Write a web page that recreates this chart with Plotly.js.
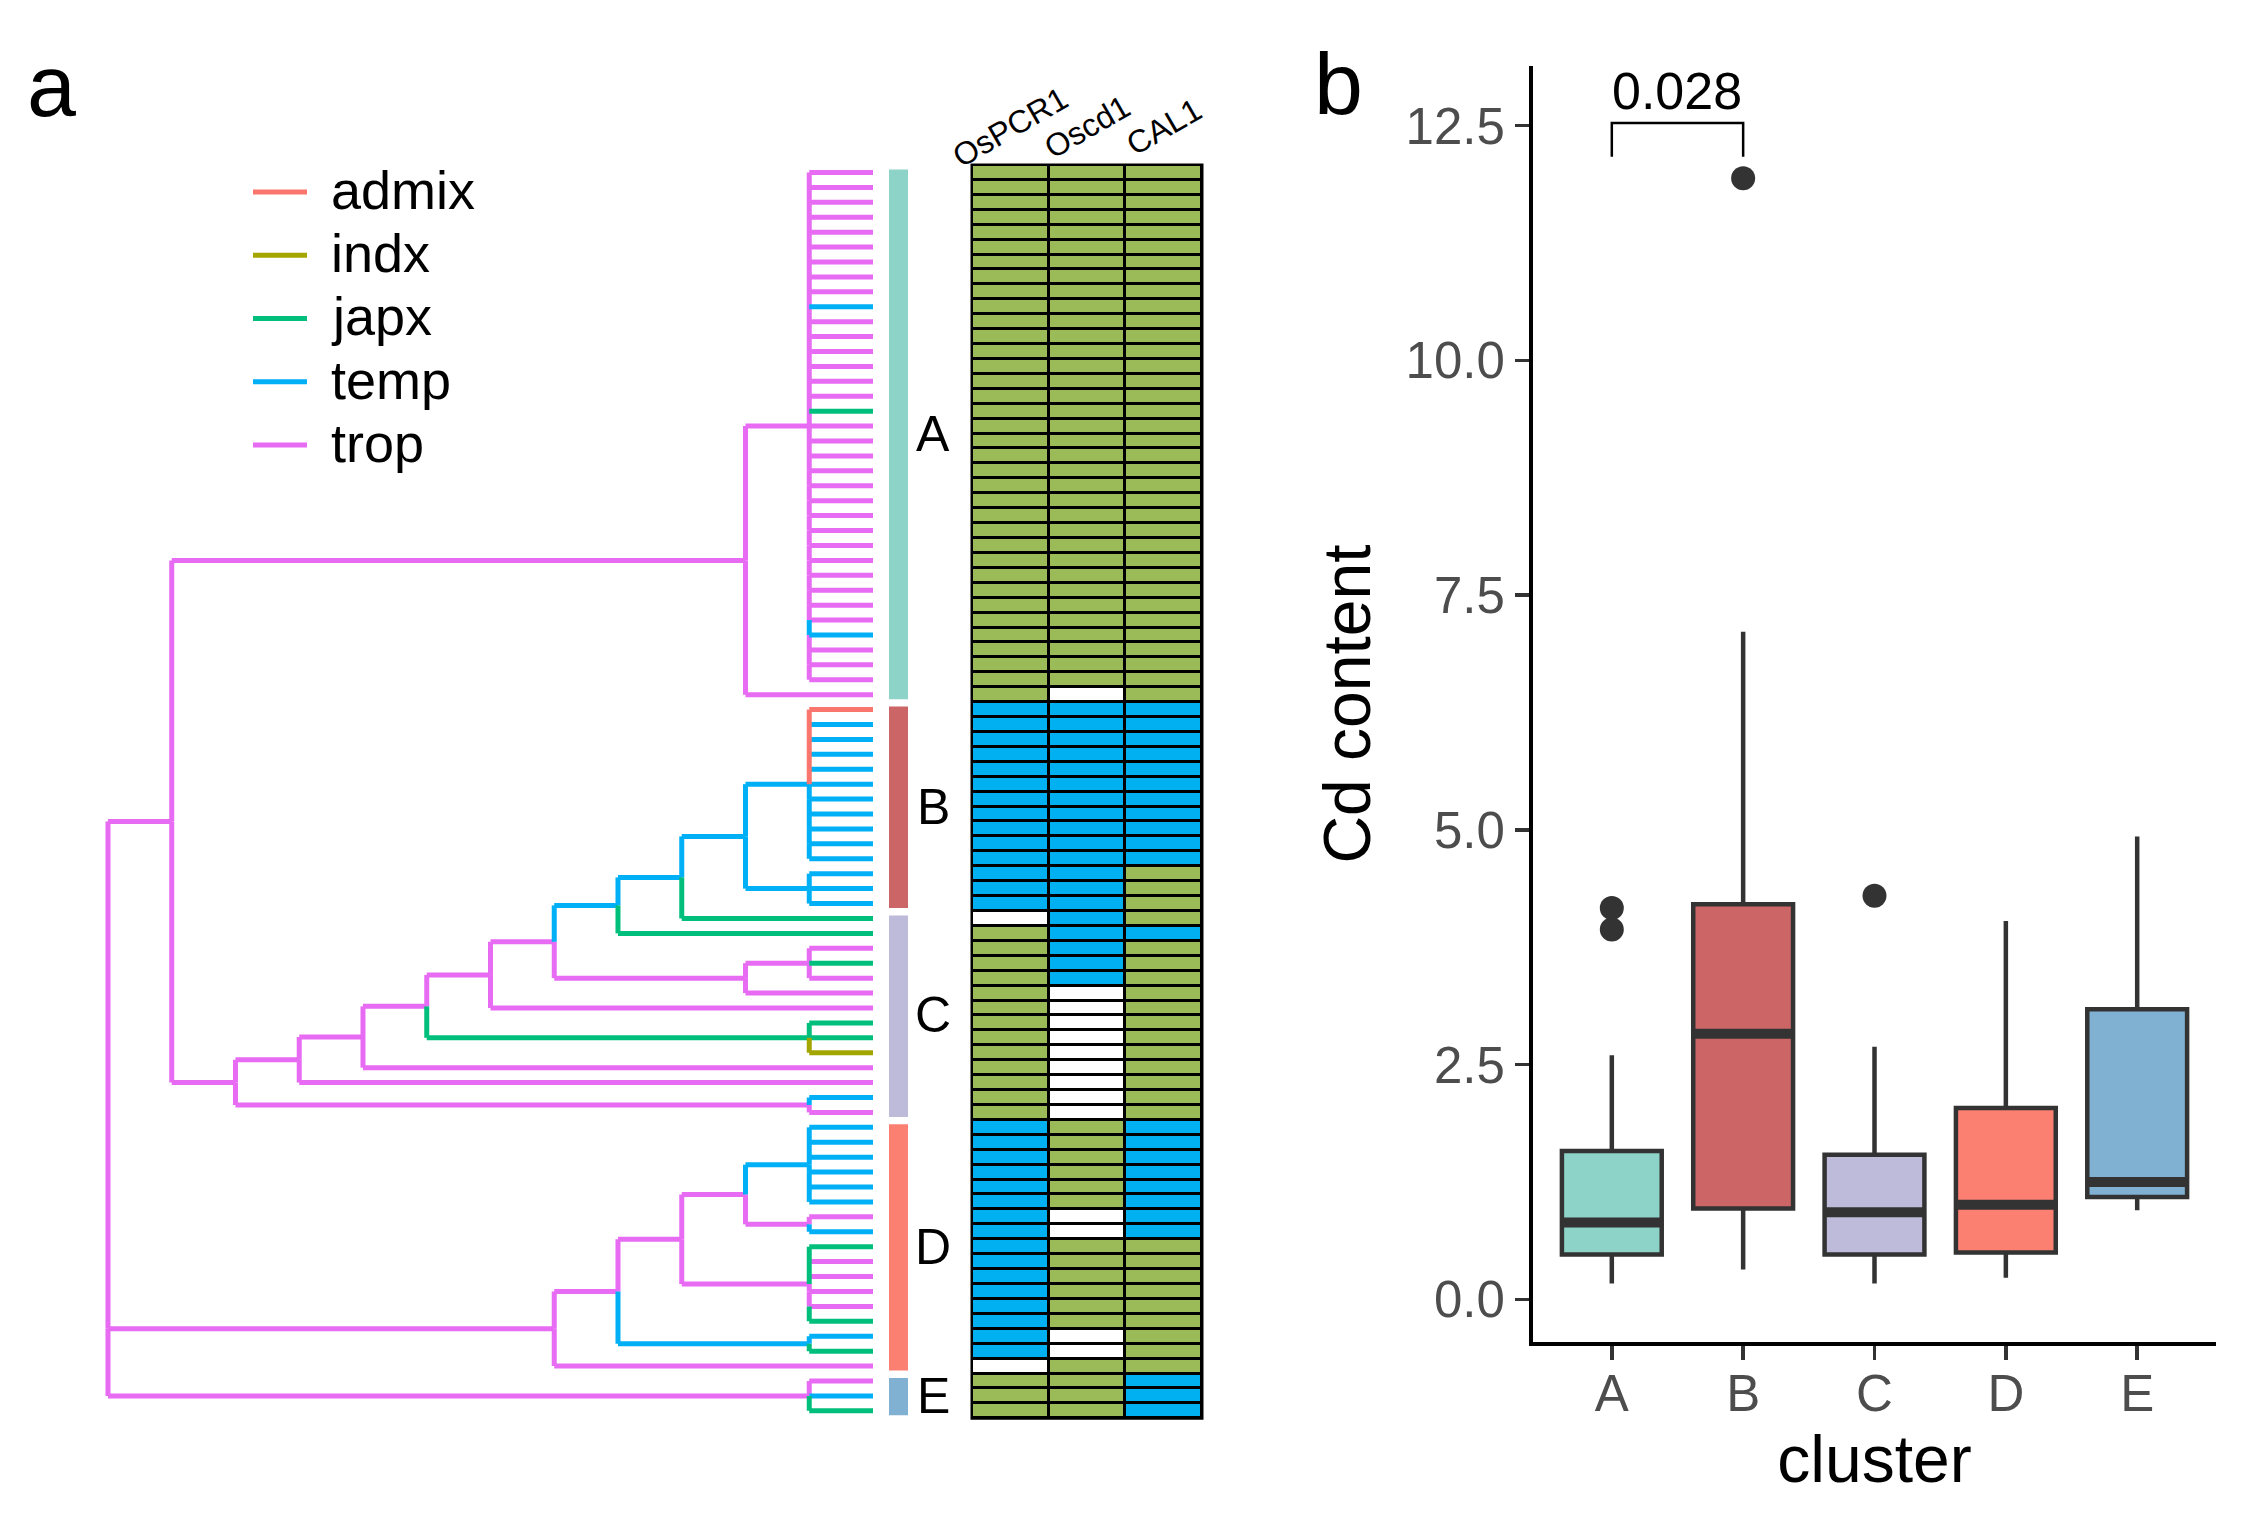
<!DOCTYPE html>
<html>
<head>
<meta charset="utf-8">
<script src="https://cdn.plot.ly/plotly-3.0.1.min.js"></script>
<style>
html,body{margin:0;padding:0;background:#ffffff;}
#chart{width:2253px;height:1527px;}
</style>
</head>
<body>
<div id="chart"></div>
<script>
// ====================== DATA ======================
// subpopulation groups (legend) and their colours
const groups      = ['admix', 'indx', 'japx', 'temp', 'trop'];
const groupCodes  = ['A', 'I', 'J', 'T', 'P'];
const groupColors = ['#F8766D', '#A3A500', '#00BF7D', '#00B0F6', '#E76BF3'];

// clusters (rows of the heatmap, top to bottom)
const clusters      = ['A', 'B', 'C', 'D', 'E'];
const clusterColors = ['#8DD3C7', '#CC6666', '#BEBADA', '#FB8072', '#80B1D3'];

// group of every leaf, per cluster (spaces only for readability)
const leafGroupsA = 'PPPPPPPPP T PPPPPP J PPPPPPP PPPPPPP T PPPP';
const leafGroupsB = 'A TTTTTTT TTTTTT';
const leafGroupsC = 'J J P J P P P J J I P P T P';
const leafGroupsD = 'TTTTTT P T J PPPP J T J P';
const leafGroupsE = 'P T J';

// tree topology: [internal-node group code, children...]; numbers are leaf rows
const treeTopology =
['P',
  ['P',
    ['P', ['P', 0,1,2,3,4,5,6,7,8,9,10,11,12,13,14,15,16,17,18,19,20,21,22,23,24,25,26,27,28,29,30,31,32,33,34], 35],
    ['P',
      ['P',
        ['P',
          ['P',
            ['P',
              ['P',
                ['T',
                  ['T',
                    ['T', ['T', 36,37,38,39,40,41,42,43,44,45,46], ['T', 47,48,49]],
                    50],
                  51],
                ['P', ['P', 52,53,54], 55]],
              56],
            ['J', 57,58,59]],
          60],
        61],
      ['P', 62,63]]],
  ['P',
    ['P',
      ['P',
        ['P', ['T', 64,65,66,67,68,69], ['P', 70,71]],
        ['P', 72,73,74,75,76,77]],
      ['T', 78,79]],
    80],
  ['P', 81,82,83]];

// heatmap genes and genotype calls per cluster (g = green, b = blue, w = missing)
const genes  = ['OsPCR1', 'Oscd1', 'CAL1'];
const OsPCR1 = ['gggggg gggggg gggggg gggggg gggggg gggggg', 'bbbbbbb bbbbbbb', 'w gggggg gggggg g', 'bbbbbbbb bbbbbbbb w', 'ggg'];
const Oscd1  = ['gggggg gggggg gggggg gggggg gggggg ggggg w', 'bbbbbbb bbbbbbb', 'bbbbb wwwwwwwww', 'gggggg ww gggggg ww g', 'ggg'];
const CAL1   = ['gggggg gggggg gggggg gggggg gggggg gggggg', 'bbbbbb bbbbb ggg', 'g b gggggg gggggg', 'bbbbbbbb ggggg gggg', 'bbb'];
const callCodes  = ['w', 'g', 'b'];
const callColors = ['#FFFFFF', '#9BBB59', '#00B0F0'];

// box plot statistics of Cd content per cluster
const q1         = [0.48, 0.97, 0.48, 0.50, 1.09];
const medians    = [0.82, 2.83, 0.93, 1.01, 1.25];
const q3         = [1.58, 4.21, 1.54, 2.04, 3.09];
const lowerFence = [0.17, 0.32, 0.17, 0.23, 0.95];
const upperFence = [2.60, 7.11, 2.69, 4.03, 4.93];
const outlierCluster = ['A', 'A', 'B', 'C'];
const outlierValue   = [4.17, 3.94, 11.94, 4.30];
const compareGroups  = ['A', 'B'];
const compareP       = '0.028';
const compareY       = [12.17, 12.53];

// ====================== BUILD ======================
const FONT = 'Liberation Sans, Arial, Helvetica, sans-serif';
const W = 2253, H = 1527;
const fx = p => p / W;
const fy = p => 1 - p / H;

const leafCodes = [leafGroupsA, leafGroupsB, leafGroupsC, leafGroupsD, leafGroupsE].join('').replace(/\s/g, '');
const codeGroup = c => groups[groupCodes.indexOf(c)];
const nRows = leafCodes.length;

// --- tree layout (cladogram, leaves aligned) ---
function layoutNode(n) {
  if (typeof n === 'number') return {leaf: true, y: n, h: 0, g: codeGroup(leafCodes[n])};
  const kids = n.slice(1).map(layoutNode);
  return {leaf: false, kids: kids, g: codeGroup(n[0]),
          h: 1 + Math.max(...kids.map(k => k.h)),
          y: kids.reduce((s, k) => s + k.y, 0) / kids.length};
}
const root = layoutNode(treeTopology);
const maxH = root.h;
const seg = {};
groups.forEach(g => seg[g] = {x: [], y: []});
function addSeg(g, x0, y0, x1, y1) { seg[g].x.push(x0, x1, null); seg[g].y.push(y0, y1, null); }
function walk(n) {
  if (n.leaf) return;
  const xn = maxH - n.h;
  n.kids.forEach(k => addSeg(k.g, xn, k.y, maxH - k.h, k.y));
  const above = n.kids.filter(k => k.y < n.y).sort((a, b) => a.y - b.y);
  if (above.length) addSeg(above[0].g, xn, above[0].y, xn, n.y);
  const below = n.kids.filter(k => k.y > n.y).sort((a, b) => a.y - b.y);
  let prev = n.y;
  below.forEach(k => { addSeg(k.g, xn, prev, xn, k.y); prev = k.y; });
  n.kids.forEach(walk);
}
walk(root);

const traces = [];
const drawOrder = ['trop', 'temp', 'japx', 'indx', 'admix'];
drawOrder.forEach(g => {
  traces.push({type: 'scatter', mode: 'lines', xaxis: 'x', yaxis: 'y',
    x: seg[g].x, y: seg[g].y, line: {color: groupColors[groups.indexOf(g)], width: 5},
    hoverinfo: 'skip', showlegend: false});
});

// --- heatmap ---
const geneCalls = [OsPCR1, Oscd1, CAL1].map(a => a.join('').replace(/\s/g, ''));
const rowIdx = Array.from({length: nRows}, (_, i) => i);
const z = rowIdx.map(r => geneCalls.map(s => callCodes.indexOf(s[r])));
traces.push({type: 'heatmap', xaxis: 'x2', yaxis: 'y', x: [0, 1, 2], y: rowIdx, z: z,
  zmin: 0, zmax: 2, showscale: false, xgap: 3, ygap: 3, hoverinfo: 'skip',
  colorscale: [[0, callColors[0]], [0.3333, callColors[0]], [0.3334, callColors[1]],
               [0.6666, callColors[1]], [0.6667, callColors[2]], [1, callColors[2]]]});

// --- cluster bars ---
const clusterSizes = [leafGroupsA, leafGroupsB, leafGroupsC, leafGroupsD, leafGroupsE].map(s => s.replace(/\s/g, '').length);
const clusterStart = [];
clusterSizes.reduce((acc, n) => { clusterStart.push(acc); return acc + n; }, 0);
traces.push({type: 'bar', xaxis: 'x5', yaxis: 'y', orientation: 'v',
  x: clusters.map(() => 0), base: clusterStart.map(s => s - 0.2),
  y: clusterSizes.map(n => n - 0.5), width: 1,
  marker: {color: clusterColors, line: {width: 0}}, hoverinfo: 'skip'});

// --- manual legend ---
groups.forEach((g, i) => {
  traces.push({type: 'scatter', mode: 'lines', xaxis: 'x3', yaxis: 'y3',
    x: [0, 1], y: [i, i], line: {color: groupColors[i], width: 5}, hoverinfo: 'skip'});
});

// --- box plot ---
const xpos = c => clusters.indexOf(c) + 1;
clusters.forEach((c, i) => {
  traces.push({type: 'box', xaxis: 'x4', yaxis: 'y4', x: [i + 1],
    q1: [q1[i]], median: [medians[i]], q3: [q3[i]],
    lowerfence: [lowerFence[i]], upperfence: [upperFence[i]],
    width: 0.76, whiskerwidth: 0, fillcolor: clusterColors[i],
    line: {color: '#333333', width: 4.5}, hoverinfo: 'skip', name: c});
});
const mx = [], my = [];
clusters.forEach((c, i) => { mx.push(i + 1 - 0.38, i + 1 + 0.38, null); my.push(medians[i], medians[i], null); });
traces.push({type: 'scatter', mode: 'lines', xaxis: 'x4', yaxis: 'y4', x: mx, y: my,
  line: {color: '#333333', width: 10}, hoverinfo: 'skip'});
traces.push({type: 'scatter', mode: 'markers', xaxis: 'x4', yaxis: 'y4',
  x: outlierCluster.map(xpos), y: outlierValue,
  marker: {color: '#333333', size: 24}, hoverinfo: 'skip', cliponaxis: false});
const bx0 = xpos(compareGroups[0]), bx1 = xpos(compareGroups[1]);
traces.push({type: 'scatter', mode: 'lines', xaxis: 'x4', yaxis: 'y4',
  x: [bx0, bx0, bx1, bx1], y: [compareY[0], compareY[1], compareY[1], compareY[0]],
  line: {color: '#000000', width: 2.5}, hoverinfo: 'skip'});

// ====================== LAYOUT ======================
const rowTop = 165, rowH = 14.92;
const yPx = v => rowTop + (v + 0.5) * rowH;
const yRange = [nRows, -1];
const colW = (1202 - 972) / 3;

const annotations = [];
// panel letters
annotations.push({xref: 'paper', yref: 'paper', x: fx(52), y: fy(86), text: 'a', showarrow: false,
  xanchor: 'center', yanchor: 'middle', font: {size: 88, family: FONT, color: '#000'}});
annotations.push({xref: 'paper', yref: 'paper', x: fx(1338), y: fy(83), text: 'b', showarrow: false,
  xanchor: 'center', yanchor: 'middle', font: {size: 88, family: FONT, color: '#000'}});
// legend texts
groups.forEach((g, i) => annotations.push({xref: 'x3', yref: 'y3', x: 1, y: i, xshift: 22, yshift: 2,
  text: g, showarrow: false, xanchor: 'left', yanchor: 'middle',
  font: {size: 54, family: FONT, color: '#000'}}));
// cluster labels
clusters.forEach((c, i) => annotations.push({xref: 'x5', yref: 'y', x: 0.5, xshift: 25,
  y: clusterStart[i] + (clusterSizes[i] - 1) / 2, text: c, showarrow: false,
  xanchor: 'center', yanchor: 'middle', font: {size: 50, family: FONT, color: '#000'}}));
// gene labels (above heatmap columns)
genes.forEach((g, i) => annotations.push({xref: 'x2', yref: 'paper', x: i, y: fy(127), text: g,
  showarrow: false, textangle: -30, xanchor: 'center', yanchor: 'middle',
  font: {size: 32, family: FONT, color: '#000'}}));
// p-value
annotations.push({xref: 'x4', yref: 'y4', x: (bx0 + bx1) / 2, y: compareY[1], yshift: 1,
  text: compareP, showarrow: false, xanchor: 'center', yanchor: 'bottom',
  font: {size: 52, family: FONT, color: '#000'}});

const layout = {
  width: W, height: H, margin: {l: 0, r: 0, t: 0, b: 0},
  paper_bgcolor: '#ffffff', plot_bgcolor: 'rgba(0,0,0,0)',
  showlegend: false, barmode: 'overlay', hovermode: false,
  font: {family: FONT, color: '#000'},
  xaxis: {domain: [fx(101.6), fx(873)], range: [-0.1, maxH], visible: false, anchor: 'y', fixedrange: true},
  yaxis: {domain: [fy(yPx(nRows)), fy(yPx(-1))], range: yRange, visible: false, anchor: 'x', fixedrange: true},
  xaxis2: {domain: [fx(972 - 0.04 * colW), fx(1202 + 0.04 * colW)], range: [-0.54, 2.54], visible: false, anchor: 'y', fixedrange: true},
  xaxis5: {domain: [fx(889), fx(908)], range: [-0.5, 0.5], visible: false, anchor: 'y', fixedrange: true},
  xaxis3: {domain: [fx(253), fx(307)], range: [0, 1], visible: false, anchor: 'y3', fixedrange: true},
  yaxis3: {domain: [fy(192 + 4.5 * 63.25), fy(192 - 0.5 * 63.25)], range: [4.5, -0.5], visible: false, anchor: 'x3', fixedrange: true},
  xaxis4: {domain: [fx(1533), fx(2216)], range: [0.4, 5.6], anchor: 'y4',
    tickmode: 'array', tickvals: clusters.map(xpos), ticktext: clusters,
    showline: true, linecolor: '#000', linewidth: 4, ticks: 'outside', ticklen: 14, tickwidth: 3.5, tickcolor: '#333333',
    ticklabelstandoff: -10,
    showgrid: false, zeroline: false, tickfont: {size: 51, color: '#4D4D4D', family: FONT},
    title: {text: 'cluster', font: {size: 66, family: FONT, color: '#000'}, standoff: 14}, fixedrange: true},
  yaxis4: {domain: [fy(1342), fy(66)], range: [-0.453, 13.136], anchor: 'x4',
    tickmode: 'linear', tick0: 0, dtick: 2.5, tickformat: '.1f',
    showline: true, linecolor: '#000', linewidth: 4, ticks: 'outside', ticklen: 14, tickwidth: 3.5, tickcolor: '#333333',
    showgrid: false, zeroline: false, tickfont: {size: 51, color: '#4D4D4D', family: FONT},
    title: {text: 'Cd content', font: {size: 66, family: FONT, color: '#000'}, standoff: 14}, fixedrange: true},
  shapes: [{type: 'rect', xref: 'x2', yref: 'y', x0: -0.5 - 1.5 / colW, x1: 2.5 + 1.5 / colW,
    y0: -0.5 - 1.5 / rowH, y1: nRows - 0.5 + 1.5 / rowH, fillcolor: '#000000', line: {width: 0}, layer: 'below'}],
  annotations: annotations
};

Plotly.newPlot('chart', traces, layout, {staticPlot: true, displayModeBar: false});
</script>
</body>
</html>
